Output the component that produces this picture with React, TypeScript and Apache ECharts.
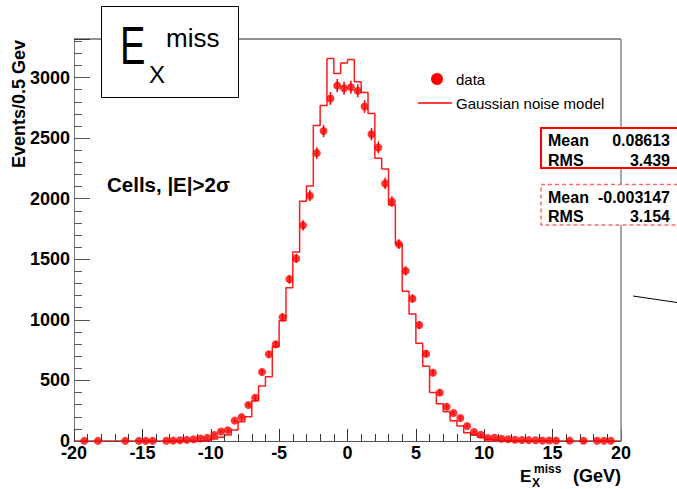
import React, { useEffect, useRef } from "react";
import * as echarts from "echarts";

const BIN_MIN = -20;
const BIN_WIDTH = 0.5;
const X_MIN = -20;
const X_MAX = 20;
const Y_MAX = 3318;

// Gaussian noise model histogram, bins of 0.5 GeV from -20 to 20
const histCounts = [
  0, 0, 0, 0, 0, 0, 0, 0, 0, 0, 0, 0, 0, 0, 0, 0,
  1, 2, 4, 8, 16, 30, 50, 91, 159, 201,
  333, 454, 531, 778, 993, 1265, 1559, 1978, 2104, 2605,
  2770, 3158, 3034, 3119, 3149, 2965, 2877, 2704, 2333, 2244,
  1947, 1625, 1235, 1048, 806, 617, 400, 308, 242, 168,
  124, 69, 50, 30, 15, 8, 4, 2, 1,
  0, 0, 0, 0, 0, 0, 0, 0, 0, 0, 0, 0, 0, 0, 0,
];

// data points (bin centres and counts)
const dataCenters = [
  -19.25, -18.25, -16.25, -15.25, -14.75, -14.25, -13.25, -12.75, -12.25, -11.75,
  -11.25, -10.75, -10.25, -9.75, -9.25, -8.75, -8.25, -7.75, -7.25, -6.75,
  -6.25, -5.75, -5.25, -4.75, -4.25, -3.75, -3.25, -2.75, -2.25, -1.75,
  -1.25, -0.75, -0.25, 0.25, 0.75, 1.25, 1.75, 2.25, 2.75, 3.25,
  3.75, 4.25, 4.75, 5.25, 5.75, 6.25, 6.75, 7.25, 7.75, 8.25,
  8.75, 9.25, 9.75, 10.25, 10.75, 11.25, 11.75, 12.25, 12.75, 13.25,
  13.75, 14.25, 14.75, 15.25, 16.25, 17.25, 18.25, 18.75, 19.25,
];
const dataCounts = [
  1, 1, 1, 1, 1, 1, 2, 3, 6, 9,
  14, 20, 26, 50, 79, 88, 168, 197, 297, 357,
  570, 716, 798, 1022, 1335, 1507, 1780, 2024, 2376, 2558,
  2827, 2933, 2912, 2920, 2890, 2761, 2532, 2423, 2126, 1975,
  1625, 1404, 1175, 957, 720, 564, 399, 283, 231, 190,
  124, 74, 52, 25, 27, 19, 14, 10, 8, 7,
  6, 4, 4, 3, 3, 2, 2, 2, 2,
];

const statsData = ["Mean", "0.08613", "RMS", "3.439"];
const statsModel = ["Mean", "-0.003147", "RMS", "3.154"];
const legendLabels = ["data", "Gaussian noise model"];

const FONT = "'Liberation Sans', Arial, Helvetica, sans-serif";

export default function App() {
  const ref = useRef<HTMLDivElement>(null);

  useEffect(() => {
    if (!ref.current) return;
    const chart = echarts.init(ref.current, undefined, { renderer: "svg" });

    const histLine: number[][] = histCounts.map((v, i) => [BIN_MIN + i * BIN_WIDTH, v]);
    histLine.push([BIN_MIN + histCounts.length * BIN_WIDTH, histCounts[histCounts.length - 1]]);
    const points = dataCenters.map((c, i) => [c, dataCounts[i]]);

    const txt = (x: number, y: number, text: string, size: number, opts: any = {}) => ({
      type: "text",
      x,
      y,
      z: 100,
      style: {
        text,
        fontSize: size,
        fontFamily: FONT,
        fontWeight: opts.bold ? "bold" : "normal",
        fill: opts.fill || "#000",
        textAlign: opts.align || "left",
        textVerticalAlign: "middle",
      },
      ...(opts.rotation ? { rotation: opts.rotation } : {}),
      ...(opts.scaleX ? { scaleX: opts.scaleX } : {}),
    });

    const option: any = {
      animation: false,
      backgroundColor: "#fff",
      grid: { left: 74, right: 56, top: 39, bottom: 48, containLabel: false },
      xAxis: {
        type: "value",
        min: X_MIN,
        max: X_MAX,
        interval: 5,
        z: 10,
        axisLine: { show: true, onZero: false, lineStyle: { color: "#555", width: 1 } },
        axisTick: { show: true, inside: true, length: 12, lineStyle: { color: "#333" } },
        minorTick: { show: true, splitNumber: 5, length: 7, lineStyle: { color: "#333" } },
        axisLabel: {
          fontSize: 18,
          fontWeight: "bold",
          fontFamily: FONT,
          color: "#000",
          margin: 3,
          showMinLabel: true,
          showMaxLabel: true,
        },
        splitLine: { show: false },
      },
      yAxis: [
        {
          type: "value",
          min: 0,
          max: Y_MAX,
          interval: 100,
          z: 10,
          axisLine: { show: true, onZero: false, lineStyle: { color: "#777", width: 1 } },
          axisTick: { show: true, inside: true, length: 8, lineStyle: { color: "#555" } },
          axisLabel: {
            interval: 0,
            fontSize: 18,
            fontWeight: "bold",
            fontFamily: FONT,
            color: "#000",
            margin: 4,
            formatter: (v: number) => (v % 500 === 0 ? String(v) : ""),
          },
          splitLine: { show: false },
        },
        {
          type: "value",
          position: "left",
          offset: 0,
          min: 0,
          max: Y_MAX,
          interval: 500,
          z: 10,
          axisLine: { show: false, onZero: false },
          axisTick: { show: true, inside: true, length: 16, lineStyle: { color: "#555" } },
          axisLabel: { show: false },
          splitLine: { show: false },
        },
      ],
      series: [
        {
          type: "line",
          name: "Gaussian noise model",
          data: histLine,
          step: "end",
          showSymbol: false,
          symbol: "none",
          z: 2,
          lineStyle: { color: "#ff1a1a", width: 1.5 },
          silent: true,
        },
        {
          type: "custom",
          name: "errors",
          z: 11,
          data: points,
          renderItem: (params: any, api: any) => {
            const x = api.value(0);
            const y = api.value(1);
            const e = Math.sqrt(y);
            const p1 = api.coord([x, y + e]);
            const p2 = api.coord([x, Math.max(0, y - e)]);
            return {
              type: "line",
              shape: { x1: p1[0], y1: p1[1], x2: p2[0], y2: p2[1] },
              style: { stroke: "#ff0000", lineWidth: 1.5 },
            };
          },
        },
        {
          type: "scatter",
          name: "data",
          data: points,
          symbol: "circle",
          symbolSize: 8,
          z: 12,
          itemStyle: { color: "#ff0000" },
        },
      ],
      graphic: [
        // frame
        { type: "line", z: 50, shape: { x1: 74, y1: 39, x2: 621, y2: 39 }, style: { stroke: "#222", lineWidth: 1 } },
        { type: "line", z: 50, shape: { x1: 621, y1: 39, x2: 621, y2: 441 }, style: { stroke: "#888", lineWidth: 1.5 } },
        // title box
        { type: "rect", z: 60, shape: { x: 101.5, y: 6.5, width: 137, height: 91 }, style: { fill: "#fff", stroke: "#000", lineWidth: 1 } },
        txt(120, 46, "E", 53, { scaleX: 0.72 }),
        txt(149, 74, "X", 24),
        txt(166, 38, "miss", 26),
        // y axis title
        txt(19, 40, "Events/0.5 Gev", 18, { bold: true, align: "right", rotation: Math.PI / 2 }),
        // annotation
        txt(107, 184.5, "Cells, |E|>2σ", 20.5, { bold: true }),
        // legend
        { type: "circle", z: 100, shape: { cx: 437, cy: 79, r: 6 }, style: { fill: "#ff0000" } },
        txt(456, 79, legendLabels[0], 15),
        { type: "line", z: 100, shape: { x1: 418, y1: 103, x2: 452, y2: 103 }, style: { stroke: "#ff0000", lineWidth: 1.5 } },
        txt(456, 103, legendLabels[1], 15),
        // stats box 1
        { type: "rect", z: 60, shape: { x: 541, y: 128, width: 145, height: 40 }, style: { fill: "#fff", stroke: "#ff0000", lineWidth: 2 } },
        txt(548, 140, statsData[0], 16, { bold: true }),
        txt(670, 140, statsData[1], 16, { bold: true, align: "right" }),
        txt(548, 160, statsData[2], 16, { bold: true }),
        txt(670, 160, statsData[3], 16, { bold: true, align: "right" }),
        // stats box 2
        { type: "rect", z: 60, shape: { x: 541, y: 184.5, width: 145, height: 40.5 }, style: { fill: "#fff", stroke: "#ff6a6a", lineWidth: 1.5, lineDash: [4, 3] } },
        txt(548, 197, statsModel[0], 16, { bold: true }),
        txt(670, 197, statsModel[1], 16, { bold: true, align: "right" }),
        txt(548, 216, statsModel[2], 16, { bold: true }),
        txt(670, 216, statsModel[3], 16, { bold: true, align: "right" }),
        // stray line at right
        { type: "line", z: 50, shape: { x1: 633, y1: 296, x2: 677, y2: 302.5 }, style: { stroke: "#000", lineWidth: 1 } },
        // x axis title
        txt(520, 476, "E", 17, { bold: true }),
        txt(532, 483, "X", 12, { bold: true }),
        txt(534, 469, "miss", 12, { bold: true }),
        txt(621, 476, "(GeV)", 18, { bold: true, align: "right" }),
      ],
    };

    chart.setOption(option);
    return () => chart.dispose();
  }, []);

  return (
    <div
      ref={ref}
      style={{ position: "absolute", left: 0, top: 0, width: 677, height: 489, background: "#fff" }}
    />
  );
}
